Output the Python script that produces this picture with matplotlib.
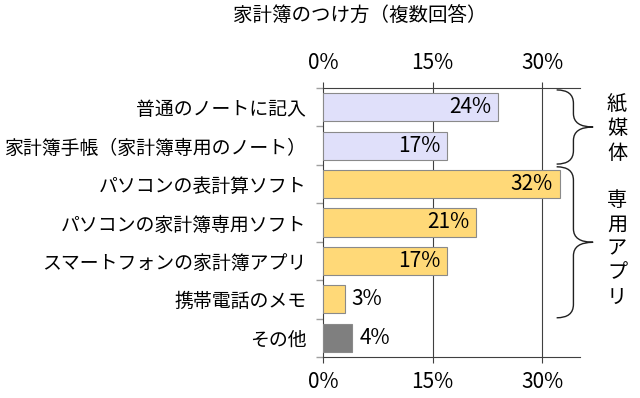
import matplotlib
matplotlib.use("Agg")
import matplotlib.pyplot as plt
from matplotlib.path import Path
from matplotlib.patches import PathPatch

plt.rcParams["font.family"] = ["Noto Sans CJK JP", "DejaVu Sans"]

title = "家計簿のつけ方（複数回答）"
categories = ["普通のノートに記入", "家計簿手帳（家計簿専用のノート）", "パソコンの表計算ソフト",
              "パソコンの家計簿専用ソフト", "スマートフォンの家計簿アプリ", "携帯電話のメモ", "その他"]
values = [24, 17, 32.4, 21, 17, 3, 4]
groups = ["paper", "paper", "app", "app", "app", "app", "other"]
group_colors = {"paper": "#E0E0FA", "app": "#FFD978", "other": "#7F7F7F"}
xticks = [0, 15, 30]
brace_groups = [("紙媒体", 0, 1), ("専用アプリ", 2, 5)]

fig = plt.figure(figsize=(6.4, 3.98), dpi=100)
ax = fig.add_axes([323 / 640, 1 - 357 / 398, (580 - 323) / 640, (357 - 88) / 398])

ys = list(range(len(categories)))
cols = [group_colors[g] for g in groups]
ax.barh(ys, values, height=0.73, color=cols, edgecolor="#8a8a8a", linewidth=0.8, zorder=3)

for y, v in zip(ys, values):
    lab = f"{v:.0f}%"
    if v > 8:
        ax.annotate(lab, (v, y), xytext=(-5, 0), textcoords="offset points",
                    ha="right", va="center", fontsize=15, zorder=4)
    else:
        ax.annotate(lab, (v, y), xytext=(5, 0), textcoords="offset points",
                    ha="left", va="center", fontsize=15, zorder=4)

ax.set_xlim(0, 35.2)
ax.set_ylim(len(categories) - 0.5, -0.5)

ax.set_xticks(xticks)
ax.set_xticklabels([f"{t}%" for t in xticks])
ax.tick_params(axis="x", which="major", top=True, labeltop=True, bottom=True, labelbottom=True,
               direction="out", length=4, width=0.8, color="#404040", labelsize=15, pad=6)
for t in xticks[1:]:
    ax.axvline(t, color="#404040", lw=0.8, zorder=1)

ax.set_yticks(ys)
ax.set_yticklabels(categories)
ax.set_yticks([y - 0.5 for y in ys] + [len(ys) - 0.5], minor=True)
ax.tick_params(axis="y", which="major", length=0, pad=12, labelsize=13.6)
ax.tick_params(axis="y", which="minor", length=5, width=1.0, color="#a0a0a0", direction="out")

for s in ["top", "bottom", "left"]:
    ax.spines[s].set_color("#404040")
    ax.spines[s].set_linewidth(0.8)
ax.spines["right"].set_visible(False)

fig.text(360 / 640, 1 - 16 / 398, title, ha="center", va="center", fontsize=14)


def brace(ax, y0, y1, x0=32.0, xm=34.3, x1=37.0, r=0.35):
    ym = (y0 + y1) / 2
    verts = [(x0, y0), (xm, y0), (xm, y0 + r),
             (xm, ym - r), (xm, ym), (x1, ym),
             (xm, ym), (xm, ym + r),
             (xm, y1 - r), (xm, y1), (x0, y1)]
    codes = [Path.MOVETO, Path.CURVE3, Path.CURVE3,
             Path.LINETO, Path.CURVE3, Path.CURVE3,
             Path.CURVE3, Path.CURVE3,
             Path.LINETO, Path.CURVE3, Path.CURVE3]
    ax.add_patch(PathPatch(Path(verts, codes), fill=False, lw=1.0, ec="#202020", clip_on=False))


for name, a, b in brace_groups:
    brace(ax, a - 0.45, b + 0.48)

# vertical group labels
centers = [129, 249]
for (name, a, b), c in zip(brace_groups, centers):
    n = len(name)
    for i, ch in enumerate(name):
        py = c + (i - (n - 1) / 2) * 24
        fig.text(617 / 640, 1 - py / 398, ch, ha="center", va="center", fontsize=14.5)

fig.savefig("out.png", dpi=100)
